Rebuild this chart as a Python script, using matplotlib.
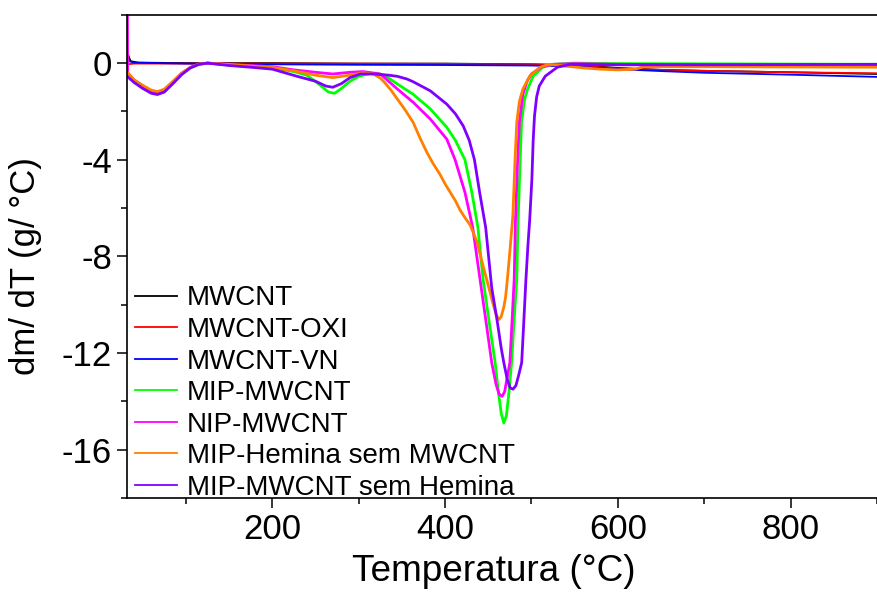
import matplotlib
matplotlib.use('Agg')
import matplotlib.pyplot as plt
from matplotlib.ticker import MultipleLocator

plt.rcParams['font.family'] = ['Liberation Sans', 'DejaVu Sans']
plt.rcParams['axes.unicode_minus'] = False

# Data (temperature in C, dm/dT in g/C)
t_mwcnt = [32, 33, 36, 45, 100, 200, 300, 400, 500, 550, 600, 650, 700, 800, 900]
v_mwcnt = [0.0, 0.35, 0.08, 0.02, 0.0, 0.0, -0.02, -0.02, -0.05, -0.08, -0.2, -0.28, -0.32, -0.38, -0.45]

t_oxi = [32, 40, 100, 200, 300, 400, 500, 550, 600, 650, 700, 800, 900]
v_oxi = [-0.05, -0.02, -0.02, -0.02, -0.02, -0.03, -0.05, -0.1, -0.22, -0.28, -0.32, -0.38, -0.42]

t_vn = [32, 34, 40, 100, 200, 300, 400, 500, 550, 600, 650, 700, 800, 900]
v_vn = [0.1, 0.08, 0.02, -0.02, -0.05, -0.07, -0.08, -0.1, -0.14, -0.25, -0.33, -0.4, -0.48, -0.57]

t_mip = [32, 40, 50, 60, 67, 75, 85, 95, 105, 115, 125, 150, 175, 200, 225, 240, 255, 265,
         272, 280, 290, 300, 310, 320, 330, 345, 363, 383, 402, 412, 423, 431, 438, 444,
         451, 458, 462, 465, 468, 471, 474, 477, 480, 483, 484.5, 487, 488.5, 492, 495.5,
         502, 513, 525, 550, 600, 700, 800, 900]
v_mip = [-0.45, -0.7, -0.95, -1.2, -1.27, -1.15, -0.8, -0.45, -0.2, -0.05, 0.0, -0.08, -0.15,
         -0.2, -0.35, -0.5, -0.9, -1.2, -1.25, -1.05, -0.75, -0.55, -0.45, -0.42, -0.5, -0.87,
         -1.29, -1.9, -2.66, -3.2, -4.0, -5.35, -6.8, -8.96, -10.7, -12.4, -13.7, -14.5,
         -14.9, -14.6, -13.6, -12.4, -10.6, -8.96, -6.5, -4.0, -2.45, -1.5, -1.08, -0.54,
         -0.17, -0.05, 0.0, -0.02, -0.03, -0.04, -0.05]

t_nip = [32, 32.5, 40, 50, 60, 67, 75, 85, 95, 105, 115, 125, 150, 175, 200, 225, 250, 270,
         290, 305, 325, 345, 363, 383, 402, 411.6, 423, 432, 440.5, 447, 454, 459, 462.5,
         466, 469, 472, 475, 477.5, 480, 481.5, 484, 486, 490, 495, 500, 511, 525, 550, 600,
         700, 800, 900]
v_nip = [5.0, -0.4, -0.7, -0.95, -1.2, -1.25, -1.12, -0.78, -0.42, -0.18, -0.04, 0.0, -0.05,
         -0.1, -0.15, -0.28, -0.38, -0.45, -0.38, -0.35, -0.45, -1.08, -1.62, -2.32, -3.15,
         -4.0, -5.35, -6.8, -8.96, -10.6, -12.4, -13.3, -13.7, -13.8, -13.6, -13.0, -12.4,
         -10.7, -8.96, -6.5, -4.0, -2.45, -1.3, -0.75, -0.45, -0.17, -0.05, -0.02, -0.05,
         -0.07, -0.08, -0.1]

t_hem = [32, 40, 50, 60, 67, 75, 85, 95, 105, 115, 125, 150, 175, 200, 225, 250, 270, 290,
         305, 317, 325, 330, 337, 345, 354, 363, 371, 379, 386, 394, 400, 406, 412, 417,
         423, 429, 437, 444, 450, 455, 459, 462.4, 465, 468, 470, 472, 475.5, 478.5, 481,
         483, 486, 490, 498, 510, 520, 540, 560, 580, 600, 620, 630, 700, 800, 900]
v_hem = [-0.37, -0.7, -0.92, -1.12, -1.18, -1.08, -0.75, -0.42, -0.18, -0.04, 0.0, -0.06,
         -0.12, -0.18, -0.32, -0.5, -0.6, -0.5, -0.4, -0.45, -0.62, -0.8, -1.1, -1.5, -1.95,
         -2.45, -3.1, -3.7, -4.15, -4.6, -5.0, -5.35, -5.7, -6.06, -6.4, -6.7, -7.4, -8.4,
         -9.2, -9.9, -10.4, -10.62, -10.5, -10.1, -9.7, -9.0, -7.6, -6.3, -4.0, -2.45, -1.6,
         -1.08, -0.54, -0.17, -0.05, -0.12, -0.2, -0.25, -0.28, -0.25, -0.15, -0.15, -0.16,
         -0.17]

t_sem = [32, 40, 50, 60, 67, 75, 85, 95, 105, 115, 125, 150, 175, 200, 229, 250, 262, 270,
         280, 290, 302, 317, 335, 345, 356, 363, 383, 402, 412, 421, 428, 434, 440, 447, 454,
         460, 465, 468, 472, 475.5, 478.6, 482, 485, 488.7, 491, 493.6, 496, 498, 500.5, 502,
         503.5, 506, 509, 516, 530, 545, 600, 700, 800, 900]
v_sem = [-0.55, -0.8, -1.05, -1.25, -1.3, -1.2, -0.85, -0.48, -0.2, -0.05, 0.0, -0.1, -0.17,
         -0.25, -0.55, -0.75, -0.95, -1.0, -0.85, -0.6, -0.45, -0.45, -0.5, -0.55, -0.66,
         -0.77, -1.15, -1.7, -2.1, -2.6, -3.2, -4.0, -5.35, -6.8, -9.3, -10.6, -11.8, -12.4,
         -13.1, -13.45, -13.5, -13.35, -12.95, -12.4, -10.8, -8.96, -7.5, -6.47, -4.8, -3.2,
         -2.2, -1.4, -0.95, -0.54, -0.17, -0.05, -0.07, -0.07, -0.06, -0.05]

series = [
    ('MWCNT', t_mwcnt, v_mwcnt, '#000000', 1.3),
    ('MWCNT-OXI', t_oxi, v_oxi, '#ff0000', 1.3),
    ('MWCNT-VN', t_vn, v_vn, '#0000ff', 1.3),
    ('MIP-MWCNT', t_mip, v_mip, '#00ff00', 2.0),
    ('NIP-MWCNT', t_nip, v_nip, '#ff00ff', 2.0),
    ('MIP-Hemina sem MWCNT', t_hem, v_hem, '#ff8000', 2.0),
    ('MIP-MWCNT sem Hemina', t_sem, v_sem, '#8000ff', 2.0),
]

fig = plt.figure(figsize=(8.77, 5.92), dpi=100)
ax = fig.add_axes([0.145, 0.159, 0.855, 0.816])

for label, t, v, color, lw in series:
    ax.plot(t, v, color=color, lw=lw, label=label, solid_joinstyle='round')

ax.set_xlim(32, 900)
ax.set_ylim(-18, 2)
ax.xaxis.set_major_locator(MultipleLocator(200))
ax.xaxis.set_minor_locator(MultipleLocator(100))
ax.yaxis.set_major_locator(MultipleLocator(4))
ax.yaxis.set_minor_locator(MultipleLocator(2))
ax.tick_params(which='major', direction='out', length=7, width=1.1, labelsize=25, pad=4)
ax.tick_params(which='minor', direction='out', length=4, width=1.1)
ax.spines['right'].set_visible(False)
for s in ['left', 'bottom', 'top']:
    ax.spines[s].set_linewidth(1.2)

ax.set_xlabel('Temperatura (°C)', fontsize=26.6)
ax.xaxis.set_label_coords(0.489, -0.117, transform=ax.transAxes)
ax.xaxis.label.set_va('top')
ax.set_ylabel('dm/ dT (g/ °C)', fontsize=25)
ax.yaxis.set_label_coords(-0.113, 0.479, transform=ax.transAxes)

leg = ax.legend(loc='lower left', bbox_to_anchor=(0.011, -0.006), frameon=False, fontsize=20,
                handlelength=1.5, handletextpad=0.35, labelspacing=0.2,
                borderaxespad=0.0, borderpad=0.0)
for h in leg.get_lines():
    h.set_linewidth(1.3)

fig.savefig('out.png', dpi=100)
